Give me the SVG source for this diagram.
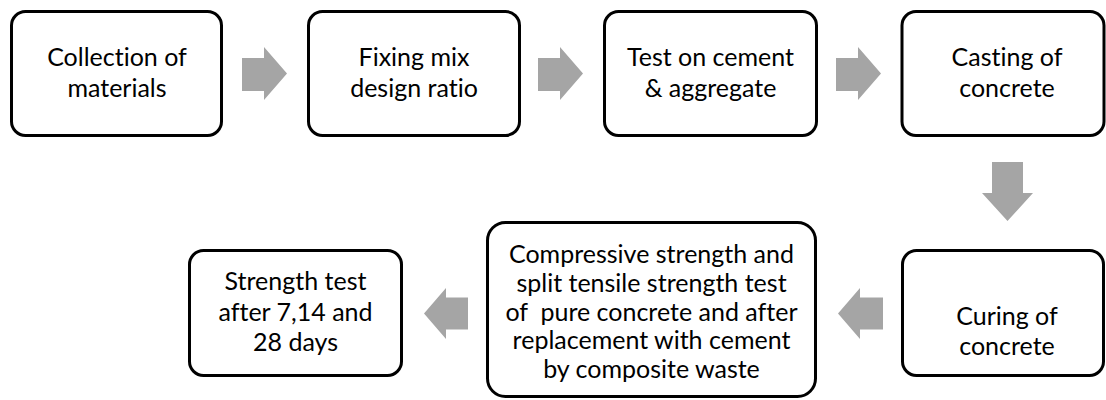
<svg xmlns="http://www.w3.org/2000/svg" width="1106" height="400" viewBox="0 0 1106 400">
<style>
.box{fill:#fff;stroke:#000;stroke-width:3}
.t{font-family:Lato,"Liberation Sans",sans-serif;font-size:25px;fill:#000;text-anchor:middle;font-variant-ligatures:none}
.arr{fill:#a5a5a5;stroke:none}
</style>
<rect width="1106" height="400" fill="#fff"/>
<g id="connectors">
<polygon class="arr" points="242,58 264,58 264,47 287,73.5 264,100 264,91 242,91"/>
<polygon class="arr" points="538,58 560,58 560,47 583,73.5 560,100 560,91 538,91"/>
<polygon class="arr" points="836,58 858,58 858,47 881,73.5 858,100 858,91 836,91"/>
<polygon class="arr" points="992,162 1023,162 1023,193 1033,193 1007.5,221 982,193 992,193"/>
<polygon class="arr" points="883,297.5 860,297.5 860,288 838,313.5 860,339 860,329.5 883,329.5"/>
<polygon class="arr" points="468,297.5 446,297.5 446,288 424,313.5 446,339 446,329.5 468,329.5"/>
</g>
<g id="n1">
<rect class="box" x="11.5" y="11.5" width="210" height="124" rx="14"/>
<text class="t" x="117" y="66">Collection of</text>
<text class="t" x="117" y="96.5">materials</text>
</g>
<g id="n2">
<rect class="box" x="308.5" y="11.5" width="211" height="124" rx="14"/>
<text class="t" x="414" y="66">Fixing mix</text>
<text class="t" x="414" y="96.5">design ratio</text>
</g>
<g id="n3">
<rect class="box" x="604.5" y="11.5" width="212" height="124" rx="14"/>
<text class="t" x="710.5" y="66">Test on cement</text>
<text class="t" x="710.5" y="96.5">&amp; aggregate</text>
</g>
<g id="n4">
<rect class="box" x="902" y="11.5" width="202" height="124" rx="14"/>
<text class="t" x="1007" y="66">Casting of</text>
<text class="t" x="1007" y="96.5">concrete</text>
</g>
<g id="n5">
<rect class="box" x="902.5" y="250.5" width="201" height="125" rx="14"/>
<text class="t" x="1007" y="325">Curing of</text>
<text class="t" x="1007" y="355">concrete</text>
</g>
<g id="n6">
<rect class="box" x="487.5" y="222.5" width="328" height="174" rx="18"/>
<text class="t" x="651.5" y="262.5">Compressive strength and</text>
<text class="t" x="651.5" y="291.5">split tensile strength test</text>
<text class="t" x="651.5" y="320.5" xml:space="preserve">of  pure concrete and after</text>
<text class="t" x="651.5" y="349">replacement with cement</text>
<text class="t" x="651.5" y="378">by composite waste</text>
</g>
<g id="n7">
<rect class="box" x="189.5" y="250.5" width="212" height="125" rx="14"/>
<text class="t" x="295.5" y="290">Strength test</text>
<text class="t" x="295.5" y="320.5">after 7,14 and</text>
<text class="t" x="295.5" y="351">28 days</text>
</g>
</svg>
